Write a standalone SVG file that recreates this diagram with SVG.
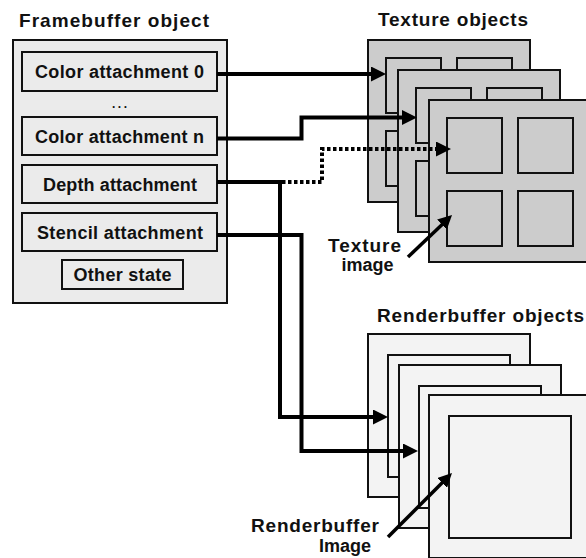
<svg xmlns="http://www.w3.org/2000/svg" width="586" height="558" viewBox="0 0 586 558">
<defs>
<style>
.t{font-family:"Liberation Sans",Arial,sans-serif;font-weight:bold;fill:#111}
.lab{font-size:18px;text-anchor:middle}
.ttl{font-size:19px}
.fbo{fill:#ebebeb;stroke:#111;stroke-width:2}
.tex{fill:#cccccc;stroke:#111;stroke-width:2}
.rb{fill:#f3f3f3;stroke:#111;stroke-width:2}
.c{fill:none;stroke:#000;stroke-width:4}
.dot{stroke-dasharray:3.5 2.5}
.pt{fill:none;stroke:#000;stroke-width:3.5}
</style>
<marker id="ah" viewBox="0 0 15 15" refX="5" refY="7.5" markerWidth="15" markerHeight="15" markerUnits="userSpaceOnUse" orient="auto">
<path d="M0,0 L15,7.5 L0,15 z" fill="#000"/>
</marker>
<marker id="ah2" viewBox="0 0 14 14" refX="4" refY="7" markerWidth="14" markerHeight="14" markerUnits="userSpaceOnUse" orient="auto">
<path d="M0,0 L14,7 L0,14 z" fill="#000"/>
</marker>
<g id="texpanel">
<rect class="tex" x="0" y="0" width="162" height="162"/>
<rect class="tex" x="18" y="18" width="55" height="55"/>
<rect class="tex" x="89" y="18" width="55" height="55"/>
<rect class="tex" x="18" y="91" width="55" height="55"/>
<rect class="tex" x="89" y="91" width="55" height="55"/>
</g>
<g id="rbpanel">
<rect class="rb" x="0" y="0" width="162" height="163"/>
<rect class="rb" x="20" y="21" width="122" height="122"/>
</g>
</defs>

<g id="framebuffer">
<text class="t ttl" x="19" y="26.5" textLength="190">Framebuffer object</text>
<rect class="fbo" x="13" y="40" width="214" height="263"/>
<g id="color0">
<rect class="fbo" x="22" y="52" width="195" height="39"/>
<text class="t lab" x="119.5" y="78" textLength="169">Color attachment 0</text>
</g>
<text class="t" x="119.5" y="108" font-size="12" text-anchor="middle" textLength="15">...</text>
<g id="colorn">
<rect class="fbo" x="22" y="117" width="195" height="38"/>
<text class="t lab" x="119.5" y="142.5" textLength="169">Color attachment n</text>
</g>
<g id="depth">
<rect class="fbo" x="22" y="165" width="195" height="38"/>
<text class="t lab" x="120" y="190.5" textLength="154">Depth attachment</text>
</g>
<g id="stencil">
<rect class="fbo" x="22" y="213" width="195" height="38"/>
<text class="t lab" x="120" y="238.5" textLength="166">Stencil attachment</text>
</g>
<g id="other">
<rect class="fbo" x="62" y="260" width="121" height="29"/>
<text class="t lab" x="122.5" y="281" textLength="98">Other state</text>
</g>
</g>

<g id="textures">
<text class="t ttl" x="378" y="26" textLength="150">Texture objects</text>
<use href="#texpanel" x="368" y="40"/>
<use href="#texpanel" x="398" y="70"/>
<use href="#texpanel" x="429" y="100"/>
</g>

<g id="renderbuffers">
<text class="t ttl" x="377" y="321.5" textLength="207">Renderbuffer objects</text>
<use href="#rbpanel" x="368" y="334"/>
<use href="#rbpanel" x="399" y="365"/>
<use href="#rbpanel" x="429" y="395"/>
</g>

<g id="connectors">
<path class="c" d="M217,74 L376,74" marker-end="url(#ah)"/>
<path class="c" d="M217,138.5 L301.5,138.5 L301.5,117.5 L407,117.5" marker-end="url(#ah)"/>
<path class="c" d="M217,182 L282,182"/>
<path class="c dot" d="M282,182 L322,182 L322,149 L441,149" marker-end="url(#ah)"/>
<path class="c" d="M280,182 L280,417 L378,417" marker-end="url(#ah)"/>
<path class="c" d="M217,235 L301.5,235 L301.5,451 L408,451" marker-end="url(#ah)"/>
</g>

<g id="texture-image-label">
<text class="t" x="328" y="252.3" font-size="19" textLength="73">Texture</text>
<text class="t" x="367.5" y="270.5" font-size="18" text-anchor="middle">image</text>
<path class="pt" d="M408,257 L444.8,221.9" marker-end="url(#ah2)"/>
</g>

<g id="renderbuffer-image-label">
<text class="t" x="251" y="532" font-size="19" textLength="128">Renderbuffer</text>
<text class="t" x="345" y="552" font-size="18" text-anchor="middle">Image</text>
<path class="pt" d="M388,537 L444.9,480.1" marker-end="url(#ah2)"/>
</g>
</svg>
